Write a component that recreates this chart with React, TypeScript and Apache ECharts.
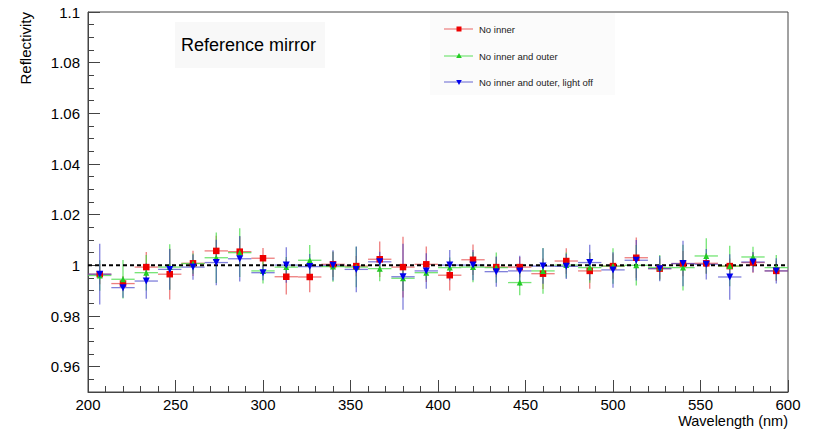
import React, { useEffect, useRef } from "react";
import * as echarts from "echarts";

const wavelengths = [206.7, 220, 233.3, 246.7, 260, 273.3, 286.7, 300, 313.3, 326.7, 340, 353.3, 366.7, 380, 393.3, 406.7, 420, 433.3, 446.7, 460, 473.3, 486.7, 500, 513.3, 526.7, 540, 553.3, 566.7, 580, 593.3];
const BIN_HALF_WIDTH = 6.67;

const noInner = [0.9965, 0.9928, 0.9993, 0.9965, 1.0008, 1.0057, 1.0054, 1.0028, 0.9955, 0.9954, 1.0004, 0.9997, 1.0024, 0.9993, 1.0004, 0.9961, 1.0022, 0.9993, 0.9993, 0.9967, 1.0017, 0.9978, 0.9997, 1.003, 0.9987, 1.0007, 1.0008, 0.9997, 1.0011, 0.9978];
const noInnerErr = [0.004, 0.003, 0.006, 0.010, 0.005, 0.006, 0.006, 0.004, 0.007, 0.006, 0.005, 0.004, 0.007, 0.012, 0.007, 0.006, 0.006, 0.004, 0.004, 0.006, 0.005, 0.007, 0.005, 0.008, 0.004, 0.005, 0.004, 0.003, 0.004, 0.004];

const noInnerOuter = [0.996, 0.9945, 0.9971, 0.9993, 1.0007, 1.003, 1.005, 0.9978, 0.9993, 1.002, 0.9995, 0.9993, 0.9987, 0.9949, 0.9971, 0.9991, 0.9993, 0.9991, 0.9932, 0.9978, 1.0001, 0.9991, 0.9997, 1.0, 0.9991, 0.9991, 1.0037, 0.9997, 1.0033, 0.9991];
const noInnerOuterErr = [0.006, 0.0076, 0.007, 0.009, 0.004, 0.010, 0.0096, 0.005, 0.004, 0.006, 0.006, 0.008, 0.005, 0.005, 0.003, 0.004, 0.006, 0.006, 0.005, 0.009, 0.005, 0.006, 0.007, 0.008, 0.005, 0.009, 0.007, 0.008, 0.004, 0.005];

const lightOff = [0.9965, 0.9912, 0.9938, 0.9984, 0.9993, 1.0011, 1.0026, 0.9971, 1.0001, 0.9995, 1.0, 0.9984, 1.0014, 0.9955, 0.9978, 1.0001, 1.0001, 0.9975, 0.9978, 0.9997, 0.9996, 1.0011, 0.9982, 1.002, 0.9987, 1.0007, 1.0004, 0.9954, 1.0013, 0.9978];
const lightOffErr = [0.012, 0.004, 0.007, 0.008, 0.005, 0.009, 0.009, 0.003, 0.007, 0.005, 0.006, 0.009, 0.004, 0.013, 0.007, 0.006, 0.006, 0.006, 0.006, 0.007, 0.005, 0.007, 0.007, 0.008, 0.005, 0.009, 0.006, 0.009, 0.004, 0.005];

const seriesNames = ["No inner", "No inner and outer", "No inner and outer, light off"];
const referenceLevel = 1;
const xRange = [200, 600];
const yRange = [0.95, 1.1];

const FONT = "Liberation Sans, Arial, Helvetica, sans-serif";

export default function App() {
  const ref = useRef<HTMLDivElement>(null);
  useEffect(() => {
    if (!ref.current) return;
    const chart = echarts.init(ref.current, null, { renderer: "svg" });

    const defs = [
      { name: seriesNames[0], vals: noInner, errs: noInnerErr, line: "rgba(230,70,70,0.7)", mark: "#ee0000", symbol: "rect", size: 6.5, rotate: 0 },
      { name: seriesNames[1], vals: noInnerOuter, errs: noInnerOuterErr, line: "rgba(70,220,70,0.75)", mark: "#22cc22", symbol: "triangle", size: 6, rotate: 0 },
      { name: seriesNames[2], vals: lightOff, errs: lightOffErr, line: "rgba(60,60,200,0.65)", mark: "#0000ee", symbol: "triangle", size: 7, rotate: 180 },
    ];

    const errSeries = defs.map((d) => ({
      type: "custom",
      name: d.name + " err",
      xAxisIndex: 0,
      yAxisIndex: 0,
      data: wavelengths.map((w, i) => [w, d.vals[i], d.errs[i]]),
      encode: { x: 0, y: 1 },
      z: 2,
      renderItem: (params: any, api: any) => {
        const x = api.value(0);
        const y = api.value(1);
        const e = api.value(2);
        const l = api.coord([x - BIN_HALF_WIDTH, y]);
        const r = api.coord([x + BIN_HALF_WIDTH, y]);
        const t = api.coord([x, y + e]);
        const b = api.coord([x, y - e]);
        return {
          type: "group",
          children: [
            { type: "line", shape: { x1: l[0], y1: l[1], x2: r[0], y2: r[1] }, style: { stroke: d.line, lineWidth: 1.3 } },
            { type: "line", shape: { x1: t[0], y1: t[1], x2: b[0], y2: b[1] }, style: { stroke: d.line, lineWidth: 1.3 } },
          ],
        };
      },
    }));

    const markSeries = defs.map((d) => ({
      type: "scatter",
      name: d.name,
      xAxisIndex: 0,
      yAxisIndex: 0,
      data: wavelengths.map((w, i) => [w, d.vals[i]]),
      symbol: d.symbol,
      symbolSize: d.size,
      symbolRotate: d.rotate,
      itemStyle: { color: d.mark, opacity: 1 },
      z: 4,
    }));

    const legendY = [29, 56, 82];
    const legendGraphics: any[] = [
      { type: "rect", shape: { x: 430, y: 13, width: 185, height: 82 }, style: { fill: "#fbfbfb" }, z: 0 },
      { type: "rect", shape: { x: 175, y: 22, width: 150, height: 46 }, style: { fill: "#f8f8f8" }, z: 0 },
      { type: "text", x: 181, y: 45, style: { text: "Reference mirror", font: `18px ${FONT}`, fill: "#000", textVerticalAlign: "middle" }, z: 10 },
      { type: "text", x: 25, y: 12, rotation: Math.PI / 2, style: { text: "Reflectivity", font: `15px ${FONT}`, fill: "#000", textAlign: "right", textVerticalAlign: "middle" }, z: 10 },
      { type: "text", x: 788, y: 421, style: { text: "Wavelength (nm)", font: `14.5px ${FONT}`, fill: "#000", textAlign: "right", textVerticalAlign: "middle" }, z: 10 },
    ];
    defs.forEach((d, i) => {
      const y = legendY[i];
      legendGraphics.push({ type: "line", shape: { x1: 444, y1: y, x2: 473, y2: y }, style: { stroke: d.line, lineWidth: 1.2 }, z: 10 });
      if (d.symbol === "rect") {
        legendGraphics.push({ type: "rect", shape: { x: 456.5, y: y - 2.5, width: 5, height: 5 }, style: { fill: d.mark }, z: 11 });
      } else if (d.rotate === 0) {
        legendGraphics.push({ type: "polygon", shape: { points: [[459, y - 3], [461.8, y + 2], [456.2, y + 2]] }, style: { fill: d.mark }, z: 11 });
      } else {
        legendGraphics.push({ type: "polygon", shape: { points: [[459, y + 3], [461.8, y - 2], [456.2, y - 2]] }, style: { fill: d.mark }, z: 11 });
      }
      legendGraphics.push({ type: "text", x: 479, y, style: { text: d.name, font: `9.5px ${FONT}`, fill: "#222", textVerticalAlign: "middle" }, z: 10 });
    });

    chart.setOption({
      animation: false,
      backgroundColor: "#fff",
      grid: { left: 88, right: 29, top: 12, bottom: 38, show: true, borderColor: "#444", borderWidth: 1, backgroundColor: "transparent" },
      xAxis: {
        type: "value",
        min: xRange[0],
        max: xRange[1],
        interval: 50,
        axisLine: { show: true, lineStyle: { color: "#444" } },
        axisTick: { show: true, inside: true, length: 12, lineStyle: { color: "#444" } },
        minorTick: { show: true, splitNumber: 5, length: 6, lineStyle: { color: "#444" } },
        splitLine: { show: false },
        axisLabel: { color: "#000", fontSize: 15, fontFamily: FONT, margin: 5 },
      },
      yAxis: [
        {
          type: "value",
          position: "left",
          min: yRange[0],
          max: yRange[1],
          interval: 0.005,
          axisLine: { show: true, lineStyle: { color: "#444" } },
          axisTick: { show: true, inside: true, length: 6, lineStyle: { color: "#444" } },
          axisLabel: { show: false },
          splitLine: { show: false },
        },
        {
          type: "value",
          position: "left",
          min: yRange[0],
          max: yRange[1],
          splitNumber: 8,
          axisLine: { show: false },
          axisTick: { show: true, inside: true, length: 12, lineStyle: { color: "#444" } },
          axisLabel: {
            color: "#000",
            fontSize: 15,
            fontFamily: FONT,
            margin: 8,
            formatter: (v: number) => (Math.abs(v - yRange[0]) < 1e-9 ? "" : String(+v.toFixed(3))),
          },
          splitLine: { show: false },
        },
      ],
      graphic: legendGraphics,
      series: [
        ...errSeries,
        {
          type: "line",
          name: "reference",
          xAxisIndex: 0,
          yAxisIndex: 0,
          data: [[xRange[0], referenceLevel], [xRange[1], referenceLevel]],
          symbol: "none",
          lineStyle: { color: "#000", width: 2, type: [4, 3] },
          z: 3,
        },
        ...markSeries,
      ],
    });
    return () => chart.dispose();
  }, []);
  return <div ref={ref} style={{ position: "absolute", left: 0, top: 0, width: 817, height: 430 }} />;
}
